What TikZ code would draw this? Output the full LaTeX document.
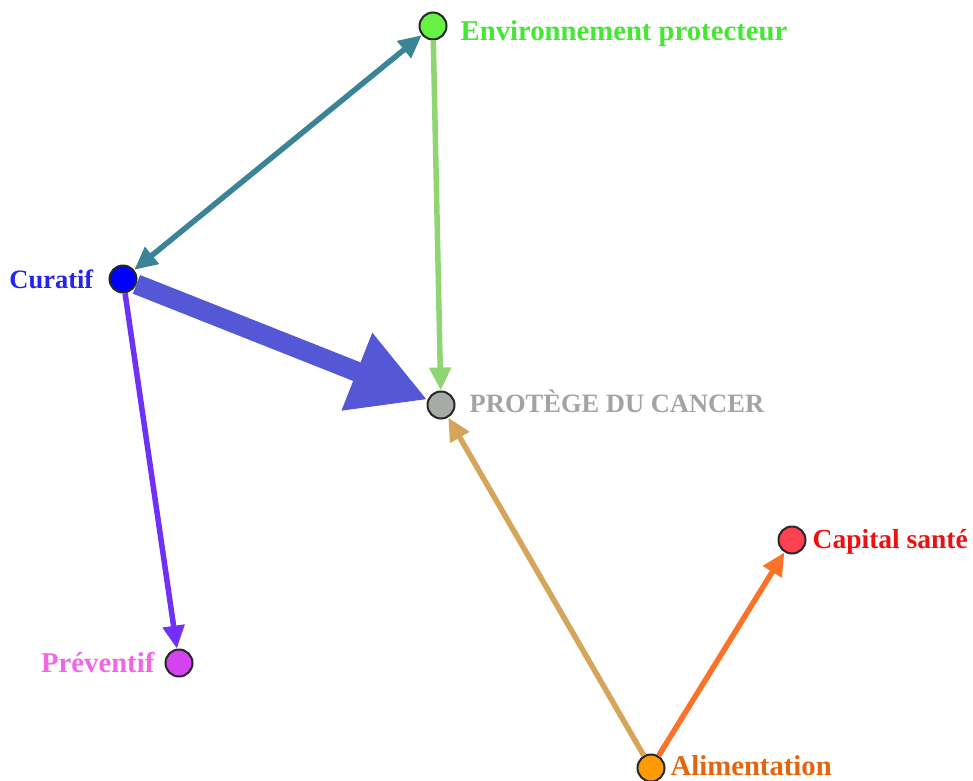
\documentclass[tikz,border=0pt]{standalone}
\usepackage{fontspec}
\setmainfont{Liberation Serif}
\usetikzlibrary{arrows.meta,positioning}
\definecolor{envfill}{HTML}{66F244}
\definecolor{envtext}{HTML}{44E833}
\definecolor{curfill}{HTML}{0000FF}
\definecolor{curtext}{HTML}{2424EE}
\definecolor{profill}{HTML}{A8AAA8}
\definecolor{protext}{HTML}{A3A3A3}
\definecolor{capfill}{HTML}{FF4050}
\definecolor{captext}{HTML}{EE1010}
\definecolor{prevfill}{HTML}{D443F0}
\definecolor{prevtext}{HTML}{F266E6}
\definecolor{alifill}{HTML}{FF9A00}
\definecolor{alitext}{HTML}{E3650E}
\definecolor{teal}{HTML}{3B8497}
\definecolor{lgreen}{HTML}{8ED672}
\definecolor{bigblue}{HTML}{5558D6}
\definecolor{violet}{HTML}{7030F8}
\definecolor{tan}{HTML}{D4A55A}
\definecolor{orng}{HTML}{FB7228}
\tikzset{
  pt/.style={circle,draw=black!85,line width=2pt,minimum size=27pt,inner sep=0pt},
  lbl/.style={font=\fontsize{28.7}{30}\selectfont\bfseries,inner sep=0pt},
  lnk/.style={line width=5.5pt,-{Triangle[length=23pt,width=21pt]}}}

\begin{document}
\begin{tikzpicture}[x=1pt,y=-1pt]
  \useasboundingbox (0,0) rectangle (973,780);
  % points
  \node[pt,fill=envfill] (env) at (433,26){};
  \node[pt,fill=curfill] (cur) at (123,279){};
  \node[pt,fill=profill] (pro) at (441,405){};
  \node[pt,fill=capfill] (cap) at (792,540){};
  \node[pt,fill=prevfill] (prev) at (179,663){};
  \node[pt,fill=alifill] (ali) at (651,768){};
  % labels
  \node[lbl,text=envtext,anchor=west] (envtxt) at ([xshift=13pt,yshift=-8pt]env.east){Environnement protecteur};
  \node[lbl,text=curtext,anchor=east,font=\fontsize{26.5}{28}\selectfont\bfseries] (curtxt) at ([xshift=-15pt]cur.west){Curatif};
  \node[lbl,text=protext,anchor=west,font=\fontsize{26.5}{28}\selectfont\bfseries] (protxt) at ([xshift=14pt,yshift=4pt]pro.east){PROTÈGE DU CANCER};
  \node[lbl,text=captext,anchor=west,font=\fontsize{27.5}{29}\selectfont\bfseries] (captxt) at ([xshift=6pt,yshift=-2pt]cap.east){Capital santé};
  \node[lbl,text=prevtext,anchor=east] (prevtxt) at ([xshift=-10pt]prev.west){Préventif};
  \node[lbl,text=alitext,anchor=west] (alitxt) at ([xshift=5pt,yshift=2pt]ali.east){Alimentation};
  % links
  \draw[lnk,teal,{Triangle[length=23pt,width=21pt]}-{Triangle[length=23pt,width=21pt]}] (cur)--(env);
  \draw[lnk,lgreen] (env)--(pro);
  \draw[bigblue,line width=20pt,-{Triangle[length=76pt,width=78pt]}] (cur)--(pro);
  \draw[lnk,violet] (cur)--(prev);
  \draw[lnk,tan] (ali)--(pro);
  \draw[lnk,orng] (ali)--(cap);
\end{tikzpicture}
\end{document}
